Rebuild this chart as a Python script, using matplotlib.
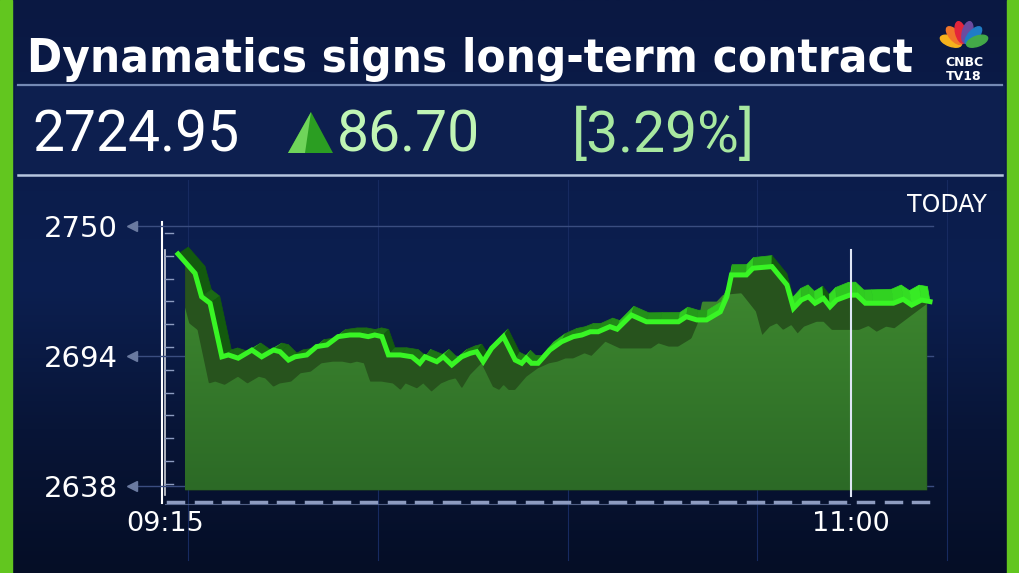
import numpy as np
import matplotlib.pyplot as plt
from matplotlib import font_manager
from matplotlib.font_manager import FontProperties
from matplotlib.patches import Polygon, Rectangle, Ellipse
from matplotlib.colors import LinearSegmentedColormap, to_rgb

W, H = 1019, 573

# --- data (minutes after 09:15, price) ---
minutes = [2.0, 4.6, 5.6, 6.9, 8.7, 9.7, 11.2, 13.3, 14.8, 16.6, 17.6, 18.9, 19.9,
           21.7, 23.2, 24.8, 26.5, 28.3, 29.8, 31.1, 32.1, 33.2, 34.2, 36.0, 37.8,
           39.0, 39.8, 41.6, 42.6, 43.9, 45.4, 46.7, 47.7, 48.7, 50.0, 51.8, 53.6,
           54.6, 55.3, 56.1, 57.1, 58.9, 60.7, 62.5, 63.8, 65.1, 66.3, 68.1, 69.2,
           71.4, 73.7, 75.8, 78.6, 79.8, 81.4, 82.9, 85.0, 86.0, 86.7, 89.0, 90.0,
           92.9, 95.2, 96.2, 97.4, 98.5, 99.5, 100.8, 101.8, 102.8, 104.8, 105.9,
           107.2, 108.4, 111.5, 113.0, 114.3, 115.8, 117.1]
price = [2737.9, 2729.6, 2719.5, 2716.7, 2693.6, 2694.4, 2693.0, 2696.5, 2693.6,
         2696.5, 2695.8, 2692.2, 2693.6, 2694.4, 2698.0, 2698.7, 2702.3, 2703.0,
         2703.0, 2702.3, 2703.0, 2702.3, 2694.4, 2694.4, 2693.6, 2690.8, 2693.6,
         2691.5, 2693.6, 2690.1, 2693.6, 2695.1, 2695.8, 2691.5, 2697.3, 2702.3,
         2692.2, 2690.8, 2693.0, 2690.8, 2690.8, 2696.5, 2700.1, 2702.3, 2703.0,
         2704.4, 2704.4, 2706.6, 2705.5, 2711.6, 2708.7, 2708.7, 2708.7, 2710.9,
         2709.5, 2709.5, 2713.0, 2719.5, 2728.9, 2728.9, 2731.8, 2732.5, 2724.6,
         2714.5, 2718.1, 2719.5, 2716.7, 2718.8, 2715.2, 2718.1, 2720.2, 2720.2,
         2716.7, 2716.7, 2716.7, 2718.4, 2715.9, 2718.1, 2717.4]
y_ticks = [2638, 2694, 2750]
x_ticks = [0, 105]
x_labels = ['09:15', '11:00']
title = 'Dynamatics signs long-term contract'
last_price = '2724.95'
change = '86.70'
change_pct = '[3.29%]'


def mix(c1, c2, t):
    a, b = np.array(to_rgb(c1)), np.array(to_rgb(c2))
    return tuple(a + (b - a) * t)


def narrow_bold_font():
    # look for a condensed bold face among installed fonts
    best = None
    for f in font_manager.fontManager.ttflist:
        name = f.name.lower()
        narrow = ('narrow' in name or 'condensed' in name or
                  str(f.stretch).lower() in ('condensed', 'semi-condensed', 'extra-condensed'))
        if not narrow:
            continue
        w = f.weight if isinstance(f.weight, int) else (700 if 'bold' in str(f.weight) else 400)
        if 'italic' in str(f.style) or 'oblique' in str(f.style):
            continue
        score = -abs(w - 700)
        if best is None or score > best[0]:
            best = (score, f.fname)
    if best:
        return FontProperties(fname=best[1])
    return FontProperties(family='DejaVu Sans', weight='bold')


fig = plt.figure(figsize=(W / 100, H / 100), dpi=100)

# --- background canvas in pixel coordinates ---
cv = fig.add_axes([0, 0, 1, 1])
cv.set_xlim(0, W)
cv.set_ylim(H, 0)
cv.axis('off')

bg = LinearSegmentedColormap.from_list('bg', ['#0a1842', '#0b1c4a', '#0c1f50', '#081537', '#050e26'])
cv.imshow(np.linspace(0, 1, 256)[:, None], cmap=bg, extent=[0, W, H, 0], aspect='auto', zorder=0)

# faint background grid
for gx in [188, 378, 568, 757, 947]:
    cv.plot([gx, gx], [180, 560], color='#172a60', lw=0.8, zorder=1)

# side bars
cv.add_patch(Rectangle((0, 0), 12, H, color='#62c61f', zorder=5))
cv.add_patch(Rectangle((1007, 0), 12, H, color='#62c61f', zorder=5))

# price box
cv.add_patch(Rectangle((15, 85), 990, 90, facecolor='#0d1f4f', edgecolor='none', zorder=2))
cv.plot([18, 1002], [85, 85], color='#8fa6d0', lw=1.6, alpha=0.8, zorder=3)
cv.plot([18, 1002], [175, 175], color='#c9d8f0', lw=1.8, alpha=0.9, zorder=3)

# title, shrunk to its width in the reference
fp = narrow_bold_font()
fp.set_size(50)
ttl = cv.text(27, 72, title, fontproperties=fp, color='white', va='baseline', ha='left', zorder=6)
fig.canvas.draw()
tw = ttl.get_window_extent().width
if tw > 885:
    fp.set_size(50 * 885 / tw)
    ttl.set_fontproperties(fp)

# price row
cv.text(32, 152, last_price, fontsize=41, family='Roboto', color='white', va='baseline', zorder=6)
cv.add_patch(Polygon([(288, 153), (311, 112), (333, 153)], closed=True, facecolor='#2b9e22', zorder=6))
cv.add_patch(Polygon([(288, 153), (311, 112), (305, 153)], closed=True, facecolor='#6fd45a', zorder=6))
cv.text(337, 152, change, fontsize=41, family='Roboto', color='#c0f5b5', va='baseline', zorder=6)
cv.text(572, 152, change_pct, fontsize=41, family='Roboto', color='#a8e8a0', va='baseline', zorder=6)

# CNBC-TV18 logo
fan_cols = ['#f6b21d', '#f0752a', '#e3263b', '#6c4b9f', '#1f7cc5', '#43a948']
for k, col in enumerate(fan_cols):
    th = np.deg2rad(160 - k * 28)
    cx, cy = 964 + 14 * np.cos(th), 46 - 14 * np.sin(th)
    cv.add_patch(Ellipse((cx, cy), 22, 10, angle=-np.rad2deg(th), color=col, zorder=6))
cv.text(964, 66, 'CNBC', fontsize=9, fontweight='bold', color='white', ha='center', va='baseline', zorder=6)
cv.text(964, 80, 'TV18', fontsize=9, fontweight='bold', color='white', ha='center', va='baseline', zorder=6)

cv.text(987, 212, 'TODAY', fontsize=17, color='white', ha='right', va='baseline', zorder=6)

# axis decorations
cv.plot([161.7, 161.7], [222, 503], color='white', lw=1.5, zorder=4)
cv.plot([165.5, 165.5], [250, 495], color='white', lw=1.2, alpha=0.8, zorder=4)
for ty in np.arange(233, 490, 22.8):
    cv.plot([165, 173], [ty, ty], color='#8d9cc0', lw=1, zorder=4)
for dx in np.arange(168, 937, 27.6):
    cv.plot([dx, dx + 15], [501.5, 501.5], color='#8e9cc0', lw=2.5, zorder=4)
cv.plot([165, 850], [504, 504], color='#6f80aa', lw=0.8, alpha=0.7, zorder=4)

# --- chart axes ---
px_per_min, px_per_unit = 6.533, 2.319
x_left, x_right = (150 - 165) / px_per_min, (945 - 165) / px_per_min
v_top, v_bot = 2750 + (226 - 215) / px_per_unit, 2750 - (505 - 226) / px_per_unit

ax = fig.add_axes([150 / W, 1 - 505 / H, 795 / W, 290 / H])
ax.set_facecolor('none')
for s in ax.spines.values():
    s.set_visible(False)

x = np.array(minutes)
y = np.array(price)
base = 2636.2
fill_lo, fill_hi = 3.0, 116.6

# horizontal grid lines with arrow heads
for v in y_ticks:
    ax.plot([-4.6, 117.6], [v, v], color='#3a4d80', lw=1, clip_on=False, zorder=1)
    ax.plot([-5.0], [v], marker='<', ms=7, color='#6a7aa0', clip_on=False, zorder=1)

xf = np.linspace(fill_lo, fill_hi, 800)
top_line = np.interp(xf, x, y)
xs = np.append(0.968 * x - 1.7, x[-1])
ys = np.append(y - 11.5, y[-1])
top_shadow = np.interp(xf, xs, ys)

ax.fill_between(xf, base, top_line, color='#27531d', lw=0, zorder=2)
verts = np.column_stack([np.r_[xf, xf[::-1]], np.r_[top_shadow, np.full_like(xf, base)]])
clip = Polygon(verts, closed=True, facecolor='none', edgecolor='none')
ax.add_patch(clip)
fill_cm = LinearSegmentedColormap.from_list('fill', ['#2c6a26', '#3f8a30'])
im = ax.imshow(np.linspace(0, 1, 256)[:, None], cmap=fill_cm, origin='lower',
               extent=[fill_lo, fill_hi, base, 2735], aspect='auto', zorder=3)
im.set_clip_path(clip)

# ribbon back wall
t_all = x / x[-1]
xb = x + (1.6 - 0.017 * x)
yb = y + 3.0 + 3.5 * t_all ** 3
for i in range(len(x) - 1):
    dpx = (x[i + 1] - x[i]) * px_per_min
    dpy = -(y[i + 1] - y[i]) * px_per_unit
    steep = dpy / dpx
    col = mix('#1b6a14', '#36e824', t_all[i] ** 2.5)
    if steep > 1.0:
        col = '#135a0e'
    elif steep < -0.5:
        col = mix(col, '#3af526', 0.5)
    quad = [(x[i], y[i]), (x[i + 1], y[i + 1]), (xb[i + 1], yb[i + 1]), (xb[i], yb[i])]
    ax.add_patch(Polygon(quad, closed=True, facecolor=col, edgecolor=col, lw=0.5, zorder=4))

ax.plot(x, y, color='#38f524', lw=3.6, solid_joinstyle='miter', zorder=5)

# 11:00 marker
ax.plot([105, 105], [2739.5, 2633.5], color='#dfe6f5', lw=1.5, zorder=6)

ax.set_xlim(x_left, x_right)
ax.set_ylim(v_bot, v_top)
ax.set_yticks(y_ticks)
ax.set_yticklabels([str(v) for v in y_ticks], fontsize=21, color='white')
ax.set_xticks(x_ticks)
ax.set_xticklabels(x_labels, fontsize=19.5, color='white')
ax.tick_params(axis='y', length=0, pad=23)
ax.tick_params(axis='x', length=0, pad=4)

fig.savefig('out.png', dpi=100)
